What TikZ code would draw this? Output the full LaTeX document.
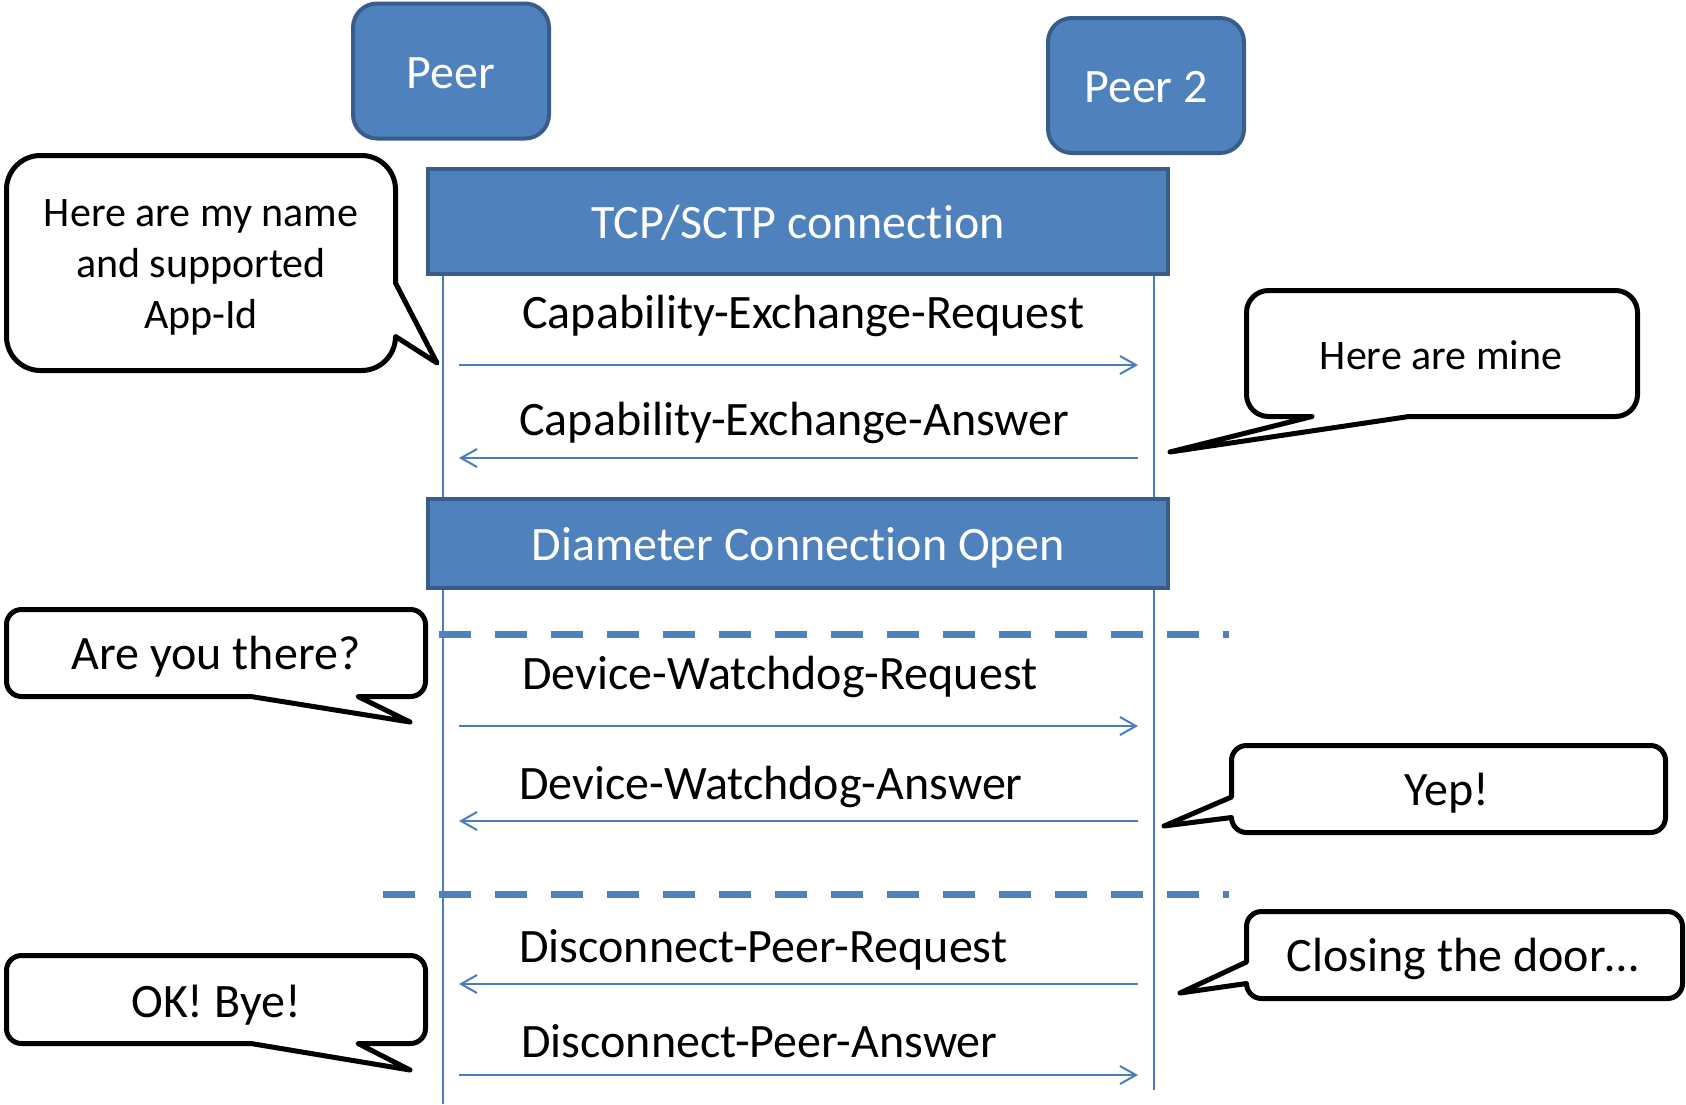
\documentclass[tikz,border=0pt]{standalone}
\usepackage{fontspec}
\setmainfont[Ligatures={NoCommon}]{Carlito}
\usetikzlibrary{arrows.meta}
\definecolor{boxfill}{HTML}{4F81BD}
\definecolor{boxline}{HTML}{385D8A}
\definecolor{wire}{HTML}{4A7EBB}
\tikzset{
  bigfont/.style={font=\fontsize{24}{25}\selectfont},
  peerbox/.style={draw=boxline, line width=2pt, fill=boxfill, rounded corners=12pt,
    minimum width=98pt, minimum height=67.5pt, text=white, bigfont, inner sep=0pt,
    text height=17pt, text depth=0pt},
  phasebar/.style={draw=boxline, line width=2pt, fill=boxfill, minimum width=370pt,
    text=white, bigfont, inner sep=0pt, text height=16.5pt, text depth=0pt},
  lifeline/.style={draw=wire, line width=1pt},
  msg/.style={draw=wire, line width=1pt, -{Straight Barb[length=8pt,width=9pt]}},
  msglabel/.style={bigfont, anchor=base west, inner sep=0pt},
  sepline/.style={draw=boxfill, line width=3.5pt, dash pattern=on 16pt off 12pt},
  bubble/.style={draw=black, line width=2.5pt, fill=white, line join=round},
  bubbletext/.style={bigfont, align=center, inner sep=0pt},
  smallbubbletext/.style={font=\fontsize{21}{25.5}\selectfont, align=center, inner sep=0pt},
}
\begin{document}
\begin{tikzpicture}[x=0.5pt, y=-0.5pt]
\useasboundingbox (0,0) rectangle (1686,1104);

% lifelines
\coordinate (l1top) at (443,276);
\coordinate (l1bot) at (443,1104);
\coordinate (l2top) at (1154,276);
\coordinate (l2bot) at (1154,1090);
\draw[lifeline] (l1top) -- (l1bot);
\draw[lifeline] (l2top) -- (l2bot);

% participants
\node[peerbox] (peer1) at (451,71) {Peer};
\node[peerbox] (peer2) at (1146,85.5) {Peer 2};

% phase bars
\node[phasebar, minimum height=52.5pt] (tcp) at (798,221.5) {TCP/SCTP connection};
\node[phasebar, minimum height=44.5pt] (diam) at (798,543.5) {Diameter Connection Open};

% separators
\coordinate (sep1a) at (439,634);
\coordinate (sep1b) at (1229,634);
\coordinate (sep2a) at (383,894);
\coordinate (sep2b) at (1229,894);
\draw[sepline] (sep1a) -- (sep1b);
\draw[sepline] (sep2a) -- (sep2b);

% message end points
\coordinate (m1a) at (459,365);  \coordinate (m1b) at (1138,365);
\coordinate (m2a) at (459,458);  \coordinate (m2b) at (1138,458);
\coordinate (m3a) at (459,726);  \coordinate (m3b) at (1138,726);
\coordinate (m4a) at (459,821);  \coordinate (m4b) at (1138,821);
\coordinate (m5a) at (459,984);  \coordinate (m5b) at (1138,984);
\coordinate (m6a) at (459,1075); \coordinate (m6b) at (1138,1075);

\draw[msg] (m1a) -- (m1b);
\draw[msg] (m2b) -- (m2a);
\draw[msg] (m3a) -- (m3b);
\draw[msg] (m4b) -- (m4a);
\draw[msg] (m5b) -- (m5a);
\draw[msg] (m6a) -- (m6b);

\node[msglabel] (cer) at (522,328) {Capability-Exchange-Request};
\node[msglabel] (cea) at (519,435) {Capability-Exchange-Answer};
\node[msglabel] (dwr) at (522,689) {Device-Watchdog-Request};
\node[msglabel] (dwa) at (519,799) {Device-Watchdog-Answer};
\node[msglabel] (dpr) at (519,962) {Disconnect-Peer-Request};
\node[msglabel] (dpa) at (521,1057) {Disconnect-Peer-Answer};

% speech bubbles
\draw[bubble] (40.5,155.5) -- (361.5,155.5)
  .. controls (380.3,155.5) and (395.5,170.7) .. (395.5,189.5)
  -- (395.5,283) -- (437,363) -- (395.5,336.5)
  .. controls (395.5,355.3) and (380.3,370.5) .. (361.5,370.5)
  -- (40.5,370.5)
  .. controls (21.7,370.5) and (6.5,355.3) .. (6.5,336.5)
  -- (6.5,189.5)
  .. controls (6.5,170.7) and (21.7,155.5) .. (40.5,155.5) -- cycle;
\node[smallbubbletext] (say1) at (201,267.5) {Here are my name\\and supported\\App-Id};

\draw[bubble] (1268.5,290.5) -- (1615.5,290.5)
  .. controls (1627.65,290.5) and (1637.5,300.35) .. (1637.5,312.5)
  -- (1637.5,394.5)
  .. controls (1637.5,406.65) and (1627.65,416.5) .. (1615.5,416.5)
  -- (1409,416.5) -- (1170,452) -- (1312,416.5) -- (1268.5,416.5)
  .. controls (1256.35,416.5) and (1246.5,406.65) .. (1246.5,394.5)
  -- (1246.5,312.5)
  .. controls (1246.5,300.35) and (1256.35,290.5) .. (1268.5,290.5) -- cycle;
\node[smallbubbletext] (say2) at (1441,355.5) {Here are mine};

\draw[bubble] (21.5,609.5) -- (410.5,609.5)
  .. controls (418.8,609.5) and (425.5,616.2) .. (425.5,624.5)
  -- (425.5,681.5)
  .. controls (425.5,689.8) and (418.8,696.5) .. (410.5,696.5)
  -- (358,696.5) -- (410,722) -- (251,696.5) -- (21.5,696.5)
  .. controls (13.2,696.5) and (6.5,689.8) .. (6.5,681.5)
  -- (6.5,624.5)
  .. controls (6.5,616.2) and (13.2,609.5) .. (21.5,609.5) -- cycle;
\node[bubbletext] (say3) at (216,657) {Are you there?};

\draw[bubble] (1246.5,745.5) -- (1650.5,745.5)
  .. controls (1658.8,745.5) and (1665.5,752.2) .. (1665.5,760.5)
  -- (1665.5,817.5)
  .. controls (1665.5,825.8) and (1658.8,832.5) .. (1650.5,832.5)
  -- (1246.5,832.5)
  .. controls (1238.2,832.5) and (1231.5,825.8) .. (1231.5,817.5)
  -- (1164,826) -- (1231.5,797) -- (1231.5,760.5)
  .. controls (1231.5,752.2) and (1238.2,745.5) .. (1246.5,745.5) -- cycle;
\node[bubbletext] (say4) at (1447,793) {Yep!};

\draw[bubble] (1261.5,911.5) -- (1667.5,911.5)
  .. controls (1675.8,911.5) and (1682.5,918.2) .. (1682.5,926.5)
  -- (1682.5,983.5)
  .. controls (1682.5,991.8) and (1675.8,998.5) .. (1667.5,998.5)
  -- (1261.5,998.5)
  .. controls (1253.2,998.5) and (1246.5,991.8) .. (1246.5,983.5)
  -- (1180,993) -- (1246.5,962) -- (1246.5,926.5)
  .. controls (1246.5,918.2) and (1253.2,911.5) .. (1261.5,911.5) -- cycle;
\node[bubbletext] (say5) at (1463,959) {Closing the door…};

\draw[bubble] (21.5,955.5) -- (410.5,955.5)
  .. controls (418.8,955.5) and (425.5,962.2) .. (425.5,970.5)
  -- (425.5,1028.5)
  .. controls (425.5,1036.8) and (418.8,1043.5) .. (410.5,1043.5)
  -- (358,1043.5) -- (410,1070) -- (251,1043.5) -- (21.5,1043.5)
  .. controls (13.2,1043.5) and (6.5,1036.8) .. (6.5,1028.5)
  -- (6.5,970.5)
  .. controls (6.5,962.2) and (13.2,955.5) .. (21.5,955.5) -- cycle;
\node[bubbletext] (say6) at (216,1005) {OK! Bye!};
\end{tikzpicture}
\end{document}
